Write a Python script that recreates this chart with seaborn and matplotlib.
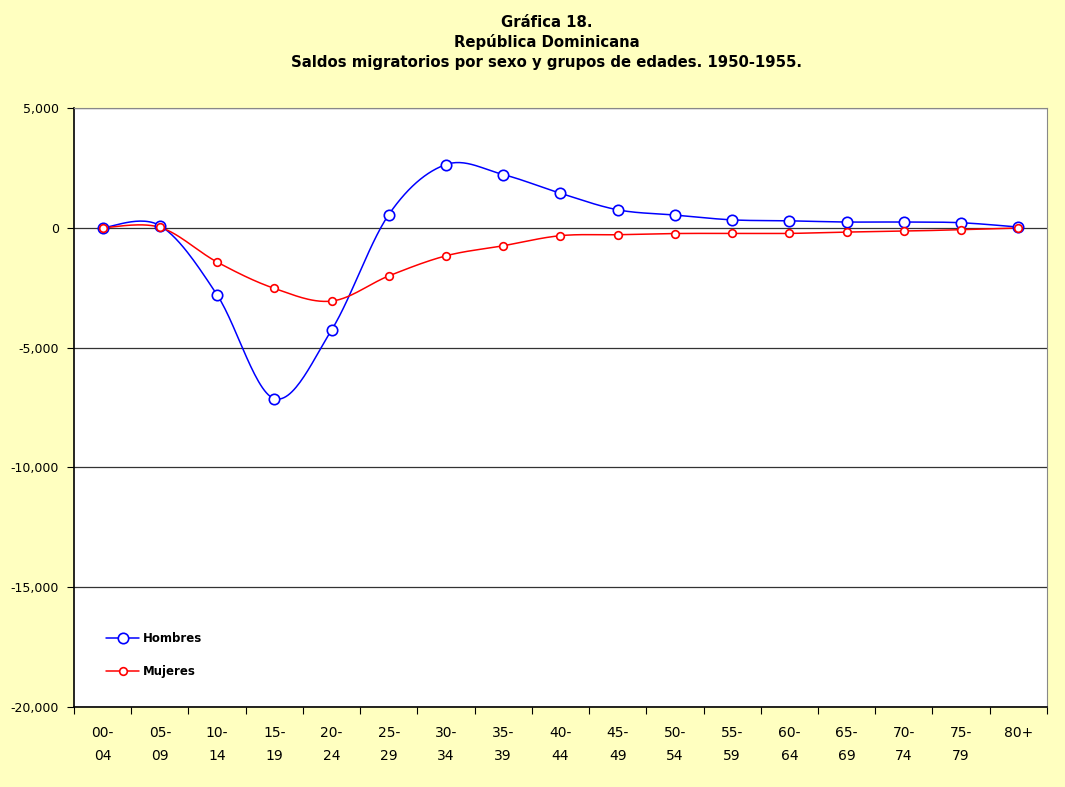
import numpy as np
import pandas as pd
import matplotlib
matplotlib.use("Agg")
import matplotlib.pyplot as plt
from matplotlib.ticker import FuncFormatter
from matplotlib.lines import Line2D
import seaborn as sns

# age groups and migration balances
grupos = ['00-\n04', '05-\n09', '10-\n14', '15-\n19', '20-\n24', '25-\n29', '30-\n34', '35-\n39',
          '40-\n44', '45-\n49', '50-\n54', '55-\n59', '60-\n64', '65-\n69', '70-\n74', '75-\n79', '80+']
hombres = [0, 90, -2800, -7130, -4270, 550, 2640, 2220, 1440, 750, 530, 330, 290, 240, 240, 210, 30]
mujeres = [0, 20, -1430, -2530, -3060, -2010, -1170, -750, -330, -290, -240, -235, -235, -180, -140, -80, -10]

sns.set_theme(style="white", rc={'text.color': 'black', 'axes.labelcolor': 'black',
                                 'xtick.color': 'black', 'ytick.color': 'black'})
plt.rcParams['font.family'] = ['DejaVu Sans']

bg = '#FFFFC0'


def smooth(y, n=30):
    # Catmull-Rom style smoothing like the spreadsheet "smoothed line"
    y = np.asarray(y, dtype=float)
    x = np.arange(len(y), dtype=float)
    P = np.column_stack([x, y])
    P = np.vstack([P[0], P, P[-1]])
    out = []
    for i in range(1, len(P) - 2):
        p0, p1, p2, p3 = P[i - 1], P[i], P[i + 1], P[i + 2]
        c1 = p1 + (p2 - p0) / 6
        c2 = p2 - (p3 - p1) / 6
        t = np.linspace(0, 1, n)[:, None]
        pts = (1 - t) ** 3 * p1 + 3 * (1 - t) ** 2 * t * c1 + 3 * (1 - t) * t ** 2 * c2 + t ** 3 * p2
        out.append(pts if i == len(P) - 3 else pts[:-1])
    out = np.vstack(out)
    return out[:, 0], out[:, 1]


fig = plt.figure(figsize=(10.65, 7.87), dpi=100, facecolor=bg)
ax = fig.add_axes([0.0695, 0.1017, 0.9135, 0.7611])
ax.set_facecolor('white')

for k in [5000, 0, -5000, -10000, -15000, -20000]:
    ax.axhline(k, color='#333333' if k > -20000 else 'black', lw=0.9, zorder=1)

series = [('Hombres', hombres, '#0000FF', 7.5), ('Mujeres', mujeres, '#FF0000', 5.5)]
for name, vals, col, ms in series:
    sx, sy = smooth(vals)
    sns.lineplot(x=sx, y=sy, ax=ax, color=col, lw=1.1, sort=False, zorder=3)
    df = pd.DataFrame({'x': np.arange(len(vals)), 'y': vals})
    sns.scatterplot(data=df, x='x', y='y', ax=ax, s=ms ** 2, facecolor='white',
                    edgecolor=col, linewidth=1.2, zorder=4)

ax.set_xlim(-0.5, len(grupos) - 0.5)
ax.set_ylim(-20000, 5000)
ax.set_yticks([5000, 0, -5000, -10000, -15000, -20000])
ax.yaxis.set_major_formatter(FuncFormatter(lambda v, p: f'{int(v):,}'))
ax.tick_params(axis='y', which='major', length=5, width=0.8, color='black', labelsize=9, pad=6, left=True)

ax.set_xticks(np.arange(-0.5, len(grupos), 1.0))
ax.set_xticklabels([])
ax.set_xticks(np.arange(len(grupos)), minor=True)
ax.set_xticklabels(grupos, minor=True, fontsize=10, linespacing=1.75)
ax.tick_params(axis='x', which='major', length=5, width=0.8, color='black', bottom=True)
ax.tick_params(axis='x', which='minor', length=0, pad=14)

ax.set_xlabel('')
ax.set_ylabel('')
for s in ['left', 'bottom']:
    ax.spines[s].set_color('black')
    ax.spines[s].set_linewidth(1.2)
for s in ['top', 'right']:
    ax.spines[s].set_color('#888888')
    ax.spines[s].set_linewidth(0.8)

handles = [Line2D([], [], color=c, lw=1.1, marker='o', markersize=m, markerfacecolor='white',
                  markeredgecolor=c, markeredgewidth=1.2) for _, _, c, m in series]
leg = ax.legend(handles, [s[0] for s in series], loc='lower left', bbox_to_anchor=(0.022, 0.03),
                frameon=False, labelspacing=1.7, handlelength=2.8, handletextpad=0.3,
                prop={'weight': 'bold', 'size': 8.5})

fig.text(0.513, 0.972, 'Gráfica 18.', ha='center', va='center', fontsize=10.7, fontweight='bold')
fig.text(0.513, 0.946, 'República Dominicana', ha='center', va='center', fontsize=10.7, fontweight='bold')
fig.text(0.513, 0.921, 'Saldos migratorios por sexo y grupos de edades. 1950-1955.', ha='center',
         va='center', fontsize=10.7, fontweight='bold')

fig.savefig('out.png', dpi=100, facecolor=bg)
